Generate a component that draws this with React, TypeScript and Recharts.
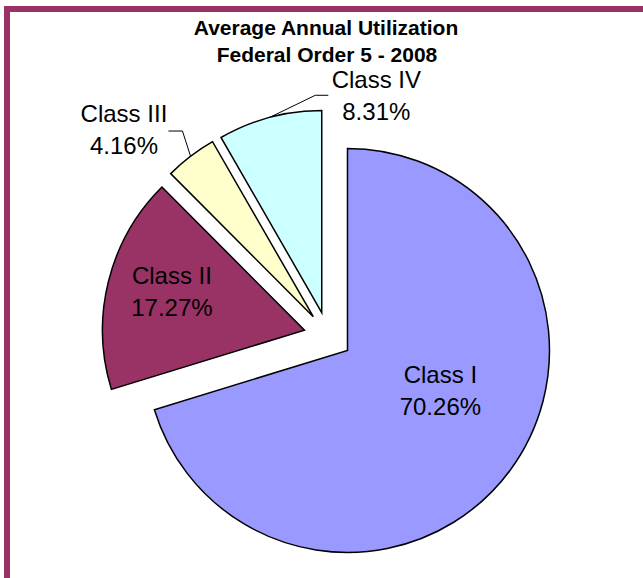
import React from 'react';
import { PieChart, Pie, Cell, Sector } from 'recharts';

const categories = ['Class I', 'Class II', 'Class III', 'Class IV'];
const shares = [70.26, 17.27, 4.16, 8.31];
const sliceColors = ['#9999FF', '#993366', '#FFFFCC', '#CCFFFF'];
const titleLines = ['Average Annual Utilization', 'Federal Order 5 - 2008'];

const data = categories.map((name, i) => ({ name, value: shares[i] }));

const RAD = Math.PI / 180;
const EXPLODE = 0.12;
const FONT = '"Liberation Sans", Arial, sans-serif';

// label placement (polar, relative to pie centre, radius as fraction of outerRadius)
const LABEL_LAYOUT: any[] = [
  { angle: -26, r: 0.619, leader: null },
  { angle: 164.2, r: 0.803, leader: null },
  { angle: 134.7, r: 1.436, leader: { elbow: [58.5, 1.2], end: [44.5, 1.2] } },
  { angle: 78.63, r: 1.213, leader: { elbow: [-61, -0.5], end: [-48, -0.5] } },
];

const polar = (cx: number, cy: number, r: number, angle: number) => ({
  x: cx + r * Math.cos(-angle * RAD),
  y: cy + r * Math.sin(-angle * RAD),
});

const ExplodedSlice = (props: any) => {
  const { cx, cy, midAngle, outerRadius } = props;
  const off = polar(0, 0, outerRadius * EXPLODE, midAngle);
  return <Sector {...props} cx={cx + off.x} cy={cy + off.y} />;
};

const renderLabel = (props: any) => {
  const { cx, cy, midAngle, outerRadius, index } = props;
  const layout = LABEL_LAYOUT[index];
  const c = polar(cx, cy, outerRadius * layout.r, layout.angle);
  let leader = null;
  if (layout.leader) {
    const off = polar(0, 0, outerRadius * EXPLODE, midAngle);
    const start = polar(cx + off.x, cy + off.y, outerRadius, midAngle);
    const { elbow, end } = layout.leader;
    leader = (
      <polyline
        points={`${start.x},${start.y} ${c.x + elbow[0]},${c.y + elbow[1]} ${c.x + end[0]},${c.y + end[1]}`}
        fill="none"
        stroke="#000"
        strokeWidth={1}
      />
    );
  }
  return (
    <g key={`lbl-${index}`}>
      {leader}
      <text x={c.x} y={c.y - 7.5} textAnchor="middle" fill="#000" stroke="none" fontSize={24} fontFamily={FONT}>
        {categories[index]}
      </text>
      <text x={c.x} y={c.y + 24.5} textAnchor="middle" fill="#000" stroke="none" fontSize={24} fontFamily={FONT}>
        {shares[index].toFixed(2)}%
      </text>
    </g>
  );
};

export default function App() {
  return (
    <div style={{ position: 'absolute', left: 0, top: 0, width: 643, height: 578, overflow: 'hidden', background: '#fff' }}>
      <div
        style={{
          position: 'absolute',
          left: 4,
          top: 6,
          width: 800,
          height: 800,
          boxSizing: 'border-box',
          border: '6px solid #993366',
        }}
      />
      <div style={{ position: 'absolute', left: 0, top: 0 }}>
        <PieChart width={643} height={578} margin={{ top: 0, right: 0, bottom: 0, left: 0 }}>
          <Pie
            data={data}
            dataKey="value"
            nameKey="name"
            cx={328}
            cy={336}
            outerRadius={202}
            startAngle={90}
            endAngle={-270}
            stroke="#000"
            strokeWidth={1.5}
            isAnimationActive={false}
            shape={ExplodedSlice}
            activeShape={ExplodedSlice}
            inactiveShape={ExplodedSlice}
            label={renderLabel}
            labelLine={false}
          >
            {data.map((d, i) => (
              <Cell key={d.name} fill={sliceColors[i]} />
            ))}
          </Pie>
        </PieChart>
      </div>
      <svg width={643} height={578} style={{ position: 'absolute', left: 0, top: 0, pointerEvents: 'none' }}>
        <text x={326} y={34.5} textAnchor="middle" fontSize={21} fontWeight="bold" fontFamily={FONT} fill="#000">
          {titleLines[0]}
        </text>
        <text x={327} y={62} textAnchor="middle" fontSize={21} fontWeight="bold" fontFamily={FONT} fill="#000">
          {titleLines[1]}
        </text>
      </svg>
    </div>
  );
}
